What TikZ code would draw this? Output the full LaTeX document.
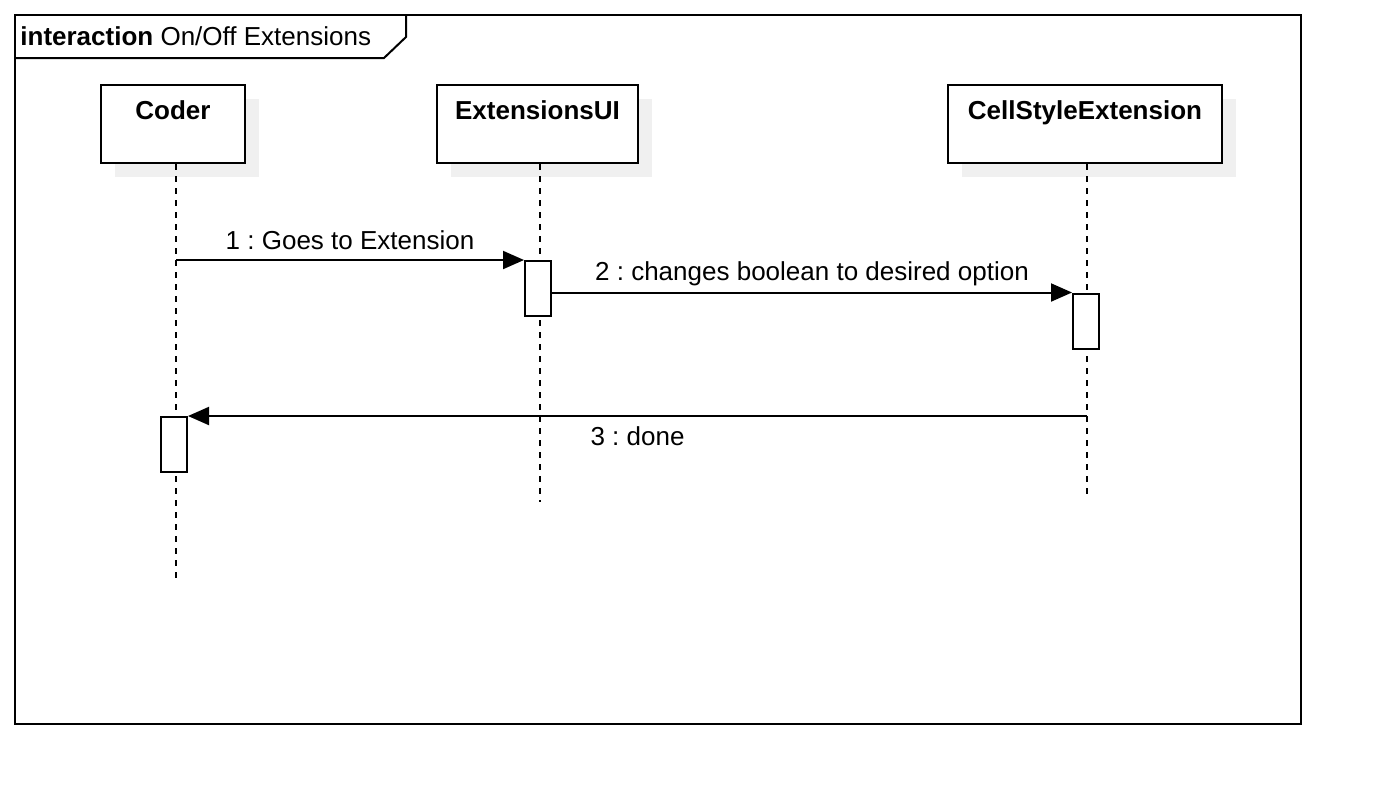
\documentclass[tikz,border=0pt]{standalone}
\usepackage{fontspec}
\setmainfont{Liberation Sans}
\usetikzlibrary{positioning}
\usetikzlibrary{shadows}
\usetikzlibrary{arrows.meta}
\frenchspacing

\tikzset{
  actor/.style={draw, line width=1pt, fill=white, inner sep=0pt, minimum height=39pt,
    drop shadow={shadow xshift=7pt, shadow yshift=-7pt, fill=black!6, opacity=1}},
  actorname/.style={anchor=north, inner sep=0pt, yshift=-8pt, font=\fontsize{13}{15}\selectfont\bfseries},
  lifeline/.style={dash pattern=on 3pt off 3pt, line width=1pt},
  activation/.style={draw, fill=white, line width=1pt, minimum width=13pt, minimum height=27.5pt, inner sep=0pt},
  msg/.style={line width=1pt, -{Triangle[length=10.5pt, width=9pt]}},
  msglabel/.style={anchor=base, inner sep=0pt, font=\fontsize{13}{15}\selectfont},
}

\begin{document}
\begin{tikzpicture}[x=0.5pt, y=-0.5pt]
\useasboundingbox (0,0) rectangle (1386,810);
% frame
\draw[line width=1pt] (15,15) rectangle (1301,724);
\draw[line width=1pt] (15,58) -- (384,58) -- (406,37) -- (406,15);
\node[msglabel, anchor=base west] (title) at (20,45) {\textbf{interaction} On/Off Extensions};
% lifelines
\node[actor, minimum width=72pt, label={[actorname]north:Coder}] (coder) at (173,124) {};
\node[actor, minimum width=100.5pt, label={[actorname]north:ExtensionsUI}] (extui) at (537.5,124) {};
\node[actor, minimum width=137pt, label={[actorname]north:CellStyleExtension}] (cellstyle) at (1085,124) {};
\coordinate (coderend) at (176,578);
\coordinate (extuiend) at (540,502);
\coordinate (cellend) at (1087,495);
\draw[lifeline] (coderend |- coder.south) -- (coderend);
\draw[lifeline] (extuiend |- extui.south) -- (extuiend);
\draw[lifeline] (cellend |- cellstyle.south) -- (cellend);
% activations
\node[activation] (uiact) at (538,288.5) {};
\node[activation] (cellact) at (1086,321) {};
\node[activation] (coderact) at (174,444.5) {};
% messages
\draw[msg] (coderend |- uiact.north) -- node[msglabel, yshift=5.5pt] {1 : Goes to Extension} (uiact.north west);
\draw[msg] (uiact.east |- cellact.north) -- node[msglabel, yshift=6pt] {2 : changes boolean to desired option} (cellact.north west);
\draw[msg] (cellend |- coderact.north) -- node[msglabel, yshift=-14.5pt] {3 : done} (coderact.north east);
\end{tikzpicture}
\end{document}
